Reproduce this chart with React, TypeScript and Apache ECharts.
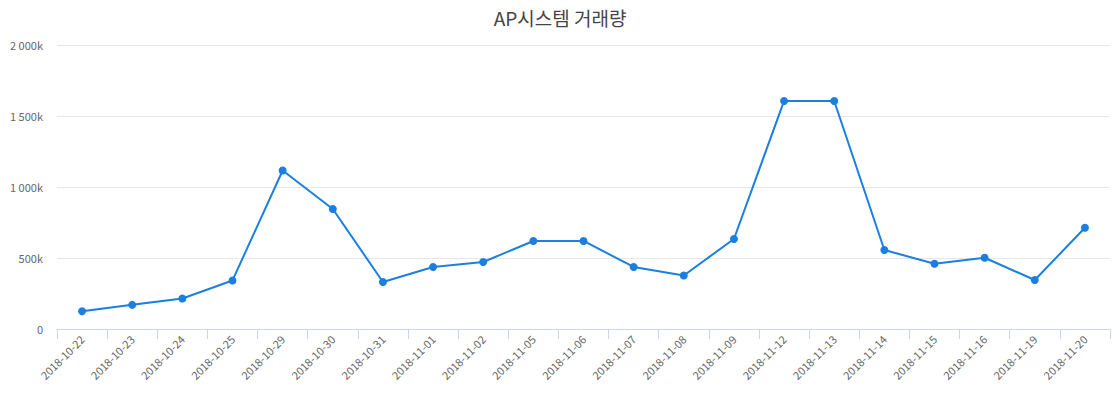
import React, { useEffect, useRef } from "react";
import * as echarts from "echarts";

const categories = [
  "2018-10-22", "2018-10-23", "2018-10-24", "2018-10-25", "2018-10-29", "2018-10-30", "2018-10-31",
  "2018-11-01", "2018-11-02", "2018-11-05", "2018-11-06", "2018-11-07", "2018-11-08", "2018-11-09",
  "2018-11-12", "2018-11-13", "2018-11-14", "2018-11-15", "2018-11-16", "2018-11-19", "2018-11-20",
];
const volumes = [
  125000, 170000, 215000, 342000, 1116000, 845000, 331000,
  437000, 472000, 620000, 620000, 437000, 377000, 634000,
  1606000, 1606000, 556000, 460000, 502000, 345000, 713000,
];
const titleText = "AP시스템 거래량";

function fmt(v: number): string {
  if (v === 0) return "0";
  const k = Math.round(v / 1000);
  const s = String(k).replace(/\B(?=(\d{3})+(?!\d))/g, " ");
  return s + "k";
}

export default function App() {
  const ref = useRef<HTMLDivElement>(null);
  useEffect(() => {
    if (!ref.current) return;
    const chart = echarts.init(ref.current, undefined, { renderer: "svg" });
    chart.setOption({
      animation: false,
      textStyle: { fontFamily: "'Noto Sans CJK KR', 'Noto Sans', sans-serif" },
      title: {
        text: titleText,
        left: "center",
        top: 3,
        textStyle: { fontSize: 19, fontWeight: "normal", color: "#444444" },
      },
      grid: { left: 57, right: 10, top: 45, bottom: 71, containLabel: false },
      xAxis: {
        type: "category",
        data: categories,
        boundaryGap: true,
        axisLine: { lineStyle: { color: "#ccd6eb" } },
        axisTick: { show: true, lineStyle: { color: "#ccd6eb" }, length: 10 },
        axisLabel: { rotate: 45, color: "#666666", fontSize: 11, margin: 8, interval: 0 },
      },
      yAxis: {
        type: "value",
        min: 0,
        max: 2000000,
        interval: 500000,
        axisLine: { show: false },
        axisTick: { show: false },
        splitLine: { lineStyle: { color: "#e6e6e6" } },
        axisLabel: { color: "#666666", fontSize: 11, margin: 14, formatter: fmt },
      },
      series: [
        {
          type: "line",
          data: volumes,
          symbol: "circle",
          symbolSize: 8,
          lineStyle: { width: 2, color: "#1a7fe0" },
          itemStyle: { color: "#1a7fe0" },
        },
      ],
    });
    return () => chart.dispose();
  }, []);
  return (
    <div
      ref={ref}
      style={{ position: "absolute", left: 0, top: 0, width: 1120, height: 400 }}
    />
  );
}
